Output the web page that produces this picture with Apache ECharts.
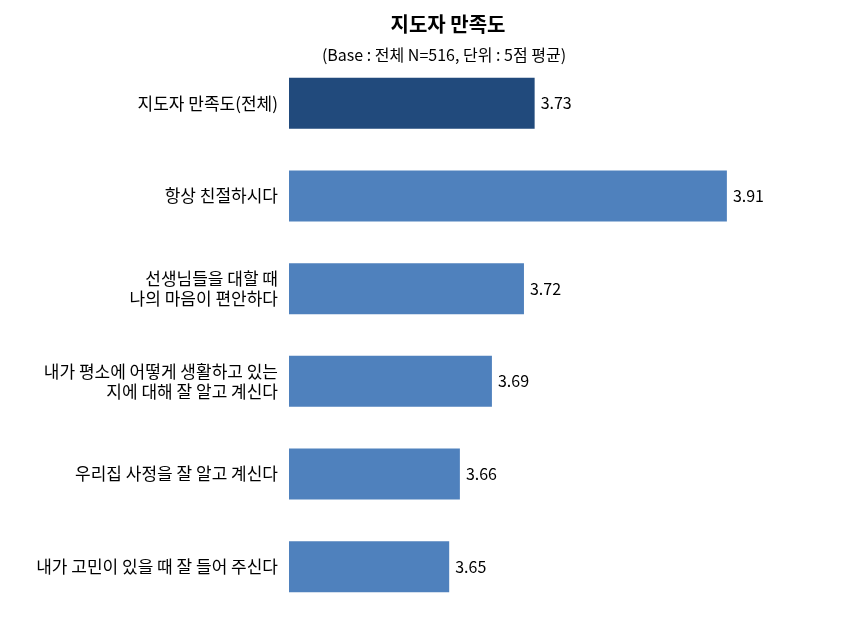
<!DOCTYPE html>
<html>
<head>
<meta charset="utf-8">
<script src="https://cdn.jsdelivr.net/npm/echarts@6/dist/echarts.min.js"></script>
<style>html,body{margin:0;padding:0;background:#fff;}#c{width:851px;height:625px;}</style>
</head>
<body>
<div id="c"></div>
<script>
const categories = [
  '지도자 만족도(전체)',
  '항상 친절하시다',
  '선생님들을 대할 때\n나의 마음이 편안하다',
  '내가 평소에 어떻게 생활하고 있는\n지에 대해 잘 알고 계신다',
  '우리집 사정을 잘 알고 계신다',
  '내가 고민이 있을 때 잘 들어 주신다'
];
const values = [3.73, 3.91, 3.72, 3.69, 3.66, 3.65];
const titleText = '지도자 만족도';
const subtitleText = '(Base : 전체 N=516, 단위 : 5점 평균)';

const FONT = '"Noto Sans CJK KR", "Noto Sans", sans-serif';
const chart = echarts.init(document.getElementById('c'), null, {renderer: 'canvas'});
chart.setOption({
  animation: false,
  backgroundColor: '#ffffff',
  title: [
    {text: titleText, left: 443, top: 9, textAlign: 'center',
     textStyle: {fontFamily: FONT, fontSize: 20, fontWeight: 'bold', color: '#000'}},
    {text: subtitleText, left: 439, top: 42, textAlign: 'center',
     textStyle: {fontFamily: FONT, fontSize: 16, fontWeight: 'normal', color: '#000'}}
  ],
  grid: {left: 289, top: 57, width: 534, height: 556, containLabel: false},
  xAxis: {
    type: 'value', min: 3.5, max: 4.0, show: false
  },
  yAxis: {
    type: 'category', data: categories, inverse: true,
    axisLine: {show: false}, axisTick: {show: false},
    axisLabel: {margin: 11, fontFamily: FONT, fontSize: 17, color: '#000', lineHeight: 20, align: 'right'}
  },
  series: [{
    type: 'bar',
    data: values.map((v, i) => ({value: v, itemStyle: {color: i === 0 ? '#214A7C' : '#4F81BD'}})),
    barWidth: 51,
    label: {show: true, position: 'right', distance: 6, fontFamily: FONT, fontSize: 16, color: '#000',
            formatter: p => p.value.toFixed(2)}
  }]
});
</script>
</body>
</html>
